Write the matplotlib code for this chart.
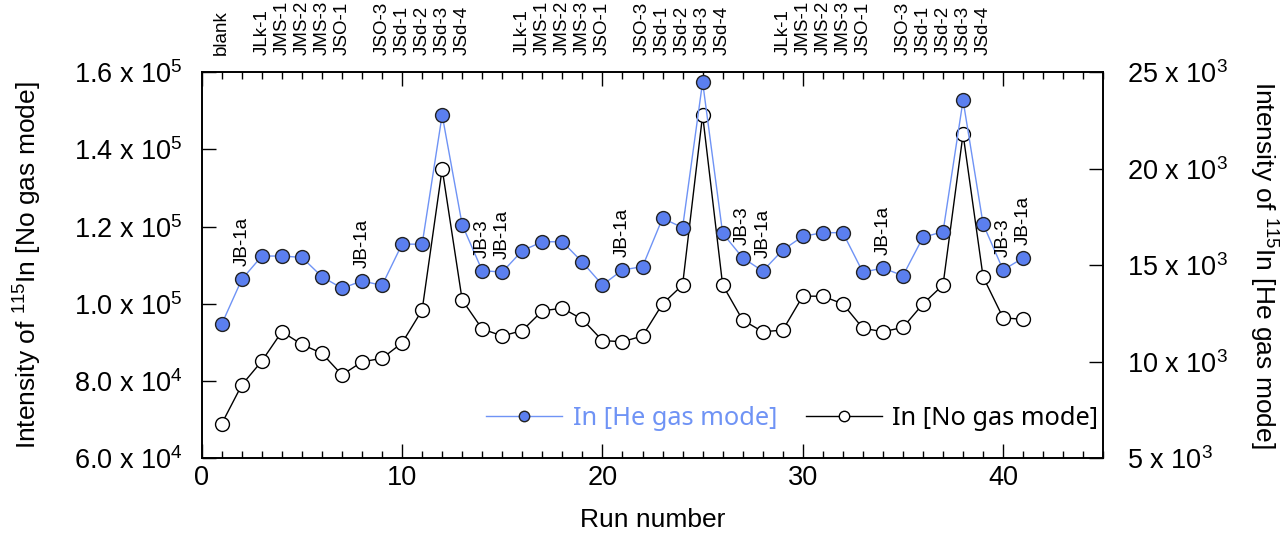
import matplotlib
matplotlib.use('Agg')
import matplotlib.pyplot as plt
from matplotlib.lines import Line2D
from matplotlib.ticker import FixedLocator, MultipleLocator

plt.rcParams['font.family'] = ['Liberation Sans', 'DejaVu Sans']
plt.rcParams['mathtext.fontset'] = 'custom'
plt.rcParams['mathtext.rm'] = 'Liberation Sans'
plt.rcParams['mathtext.it'] = 'Liberation Sans'

# Run numbers and the two 115In intensities
runs = list(range(1, 42))
no_gas = [69000, 79000, 85200, 92800, 89500, 87200, 81600, 85000, 85900, 89900,
          98400, 135000, 101000, 93500, 91700, 93100, 98200, 98900, 96000, 90500,
          90200, 91700, 100000, 104900, 148900, 104900, 95800, 92800, 93200, 102000,
          102000, 100000, 93700, 92800, 93900, 100000, 104900, 144000, 107000, 96400,
          96000]
he_gas = [11960, 14270, 15480, 15480, 15410, 14410, 13810, 14190, 13960, 16100,
          16090, 22790, 17100, 14720, 14650, 15760, 16220, 16220, 15160, 13980,
          14760, 14930, 17440, 16950, 24500, 16660, 15390, 14700, 15790, 16500,
          16690, 16690, 14640, 14860, 14460, 16450, 16740, 23550, 17140, 14760,
          15380]

# Sample names written above the frame
sample_runs = [1, 3, 4, 5, 6, 7, 9, 10, 11, 12, 13,
               16, 17, 18, 19, 20, 22, 23, 24, 25, 26,
               29, 30, 31, 32, 33, 35, 36, 37, 38, 39]
sample_names = ['blank', 'JLk-1', 'JMS-1', 'JMS-2', 'JMS-3', 'JSO-1', 'JSO-3', 'JSd-1', 'JSd-2', 'JSd-3', 'JSd-4',
                'JLk-1', 'JMS-1', 'JMS-2', 'JMS-3', 'JSO-1', 'JSO-3', 'JSd-1', 'JSd-2', 'JSd-3', 'JSd-4',
                'JLk-1', 'JMS-1', 'JMS-2', 'JMS-3', 'JSO-1', 'JSO-3', 'JSd-1', 'JSd-2', 'JSd-3', 'JSd-4']

# Standards written next to the He-mode points
std_runs = [2, 8, 14, 15, 21, 27, 28, 34, 40, 41]
std_names = ['JB-1a', 'JB-1a', 'JB-3', 'JB-1a', 'JB-1a', 'JB-3', 'JB-1a', 'JB-1a', 'JB-3', 'JB-1a']

left_ticks = [60000, 80000, 100000, 120000, 140000, 160000]
left_labels = ['6.0 x 10$^4$', '8.0 x 10$^4$', '1.0 x 10$^5$', '1.2 x 10$^5$', '1.4 x 10$^5$', '1.6 x 10$^5$']
right_ticks = [5000, 10000, 15000, 20000, 25000]
right_labels = ['5 x 10$^3$', '10 x 10$^3$', '15 x 10$^3$', '20 x 10$^3$', '25 x 10$^3$']

blue_fill = '#5b7fef'
blue_line = '#6f93f5'

fig = plt.figure(figsize=(12.85, 5.33), dpi=100)
ax1 = fig.add_axes([0.157, 0.1401, 0.7016, 0.7243])
ax2 = ax1.twinx()

ax1.plot(runs, no_gas, color='black', lw=1.0, marker='o', ms=10,
         mfc='white', mec='black', mew=1.0, zorder=3)
ax2.plot(runs, he_gas, color=blue_line, lw=1.0, marker='o', ms=10,
         mfc=blue_fill, mec='#222222', mew=1.0, zorder=3)

ax1.set_xlim(0, 45)
ax1.set_ylim(60000, 160000)
ax2.set_ylim(5000, 25000)

ax1.xaxis.set_major_locator(MultipleLocator(10))
ax1.xaxis.set_minor_locator(MultipleLocator(1))
ax1.yaxis.set_major_locator(FixedLocator(left_ticks))
ax1.set_yticklabels(left_labels)
ax2.yaxis.set_major_locator(FixedLocator(right_ticks))
ax2.set_yticklabels(right_labels)

ax1.tick_params(axis='x', which='major', direction='in', top=True, length=10, width=1.0,
                labelsize=19.5, pad=5)
ax1.tick_params(axis='x', which='minor', direction='in', top=True, length=5, width=1.0)
ax1.tick_params(axis='y', direction='in', length=10, width=1.0, labelsize=19.5, pad=14)
ax2.tick_params(axis='y', direction='in', length=10, width=1.0, labelsize=19.5, pad=17)

for ax in (ax1, ax2):
    for sp in ax.spines.values():
        sp.set_linewidth(1.2)

ax1.set_xlabel('Run number', fontsize=19)
ax1.xaxis.set_label_coords(0.5, -0.128)
ax1.set_ylabel('Intensity of $^{115}$In [No gas mode]', fontsize=19)
ax1.yaxis.set_label_coords(-0.175, 0.5)
ax2.set_ylabel('Intensity of $^{115}$In [He gas mode]', fontsize=19, rotation=270, va='center')
ax2.yaxis.set_label_coords(1.177, 0.5)

# sample names along the top frame
for r, name in zip(sample_runs, sample_names):
    ax1.annotate(name, xy=(r, 1), xycoords=('data', 'axes fraction'),
                 xytext=(0, 17), textcoords='offset pixels',
                 rotation=90, ha='center', va='bottom', fontsize=13.5)

# standard names above the He-mode points
for r, name in zip(std_runs, std_names):
    ax2.annotate(name, xy=(r, he_gas[r - 1]), xytext=(0, 13), textcoords='offset pixels',
                 rotation=90, ha='center', va='bottom', fontsize=13.5)

handles = [Line2D([], [], color=blue_line, lw=1.0, marker='o', ms=7.5, mfc=blue_fill, mec='#222222'),
           Line2D([], [], color='black', lw=1.0, marker='o', ms=7.5, mfc='white', mec='black')]
ax2.legend(handles, ['In [He gas mode]', 'In [No gas mode]'], loc='center right',
           bbox_to_anchor=(0.9945, 0.104), ncol=2, frameon=False, borderpad=0,
           borderaxespad=0, handlelength=3.0, handletextpad=0.4, columnspacing=1.14,
           labelcolor=[blue_line, 'black'],
           prop={'family': 'Noto Sans', 'size': 18.3})

fig.savefig('out.png', dpi=100)
